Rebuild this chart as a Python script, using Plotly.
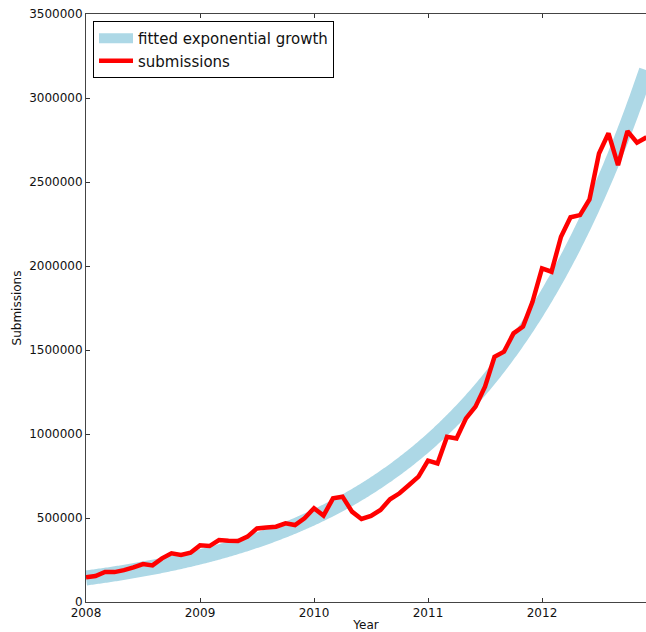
import numpy as np
import plotly.graph_objects as go

# Monthly submission counts, Jan 2008 onwards
start_year = 2008
submissions = [
    147000, 155000, 179000, 178000, 190000, 206000, 226000, 218000, 260000, 290000, 280000, 293000,
    337000, 333000, 369000, 365000, 363000, 389000, 438000, 444000, 448000, 468000, 458000, 498000,
    558000, 514000, 617000, 627000, 538000, 494000, 512000, 548000, 611000, 647000, 696000, 746000,
    841000, 825000, 984000, 974000, 1093000, 1163000, 1282000, 1460000, 1490000, 1599000, 1639000, 1787000,
    1986000, 1966000, 2174000, 2290000, 2303000, 2396000, 2670000, 2790000, 2601000, 2803000, 2734000, 2766000,
]
months = [start_year + i / 12 for i in range(len(submissions))]

# Exponential growth model: value = FIT_START * exp(FIT_RATE * (year - 2008))
FIT_START = 143000
FIT_RATE = 0.630

year_ticks = [2008, 2009, 2010, 2011, 2012]
value_ticks = [0, 500000, 1000000, 1500000, 2000000, 2500000, 3000000, 3500000]

# evaluate the model over the same span as the monthly data
fit_x = np.linspace(months[0], months[-1], 400)
fit_y = FIT_START * np.exp(FIT_RATE * (fit_x - start_year))

fig = go.Figure()
fig.add_trace(go.Scatter(
    x=fit_x, y=fit_y, mode="lines", name="fitted exponential growth",
    line=dict(color="#ADD8E6", width=15, simplify=False),
))
fig.add_trace(go.Scatter(
    x=months, y=submissions, mode="lines", name="submissions",
    line=dict(color="#FF0000", width=4.5, simplify=False),
))

font_family = "DejaVu Sans"
fig.update_layout(
    width=646, height=632,
    margin=dict(l=86, r=0, t=14, b=30, pad=0),
    plot_bgcolor="white", paper_bgcolor="white",
    font=dict(family=font_family, size=12, color="#111"),
    showlegend=True,
    legend=dict(
        x=0.0125, y=0.988, xanchor="left", yanchor="top",
        bgcolor="white", bordercolor="#000", borderwidth=1,
        font=dict(size=15, color="#111"), itemwidth=34,
        tracegroupgap=0,
    ),
)
fig.update_xaxes(
    range=[2008, 2008 + 560 / 114],
    tickvals=year_ticks, ticktext=[str(v) for v in year_ticks],
    ticks="inside", ticklen=4, tickcolor="#333",
    showline=True, linecolor="#444", linewidth=1, mirror="ticks",
    showgrid=False, zeroline=False,
    title=dict(text="Year", font=dict(size=12), standoff=2),
)
fig.update_yaxes(
    range=[0, 3500000],
    tickvals=value_ticks, ticktext=[str(v) for v in value_ticks],
    ticks="inside", ticklen=4, tickcolor="#333",
    showline=True, linecolor="#444", linewidth=1, mirror=False,
    showgrid=False, zeroline=False,
    title=dict(text="Submissions", font=dict(size=12), standoff=4),
)

fig.write_html("out.html")
